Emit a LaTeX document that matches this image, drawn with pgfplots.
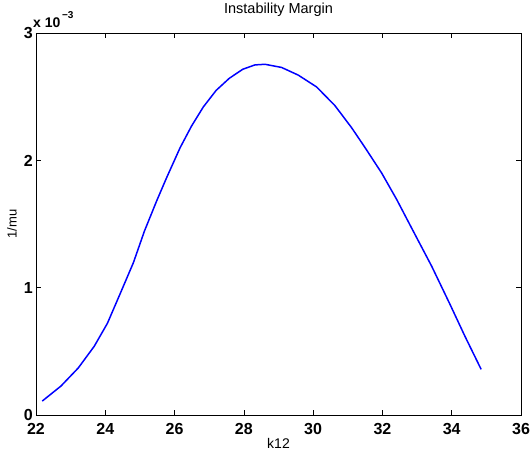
\documentclass[border=0pt]{standalone}
\usepackage{fontspec}
\setmainfont{Liberation Sans}
\usepackage{pgfplots}
\pgfplotsset{compat=1.18}
\begin{document}
\begin{tikzpicture}
\begin{axis}[
  scale only axis,
  width=485pt, height=382pt,
  xmin=22, xmax=36, ymin=0, ymax=0.003,
  xtick={22,24,...,36},
  ytick={0,0.001,0.002,0.003},
  scaled y ticks=base 10:3,
  ytick scale label code/.code={{\fontsize{14}{14}\selectfont\bfseries x 10}\raisebox{9pt}{\fontsize{10}{10}\selectfont\bfseries\,−3}},
  every y tick scale label/.style={at={(rel axis cs:0,1)}, anchor=south west,
    inner sep=0pt, xshift=0pt, yshift=5pt},
  tick align=inside,
  major tick length=5pt,
  tick style={black, line width=0.6pt},
  axis line style={line width=0.8pt},
  tick label style={font=\fontsize{16}{16}\selectfont\bfseries},
  /pgf/number format/assume math mode=true,
  xticklabel style={inner sep=0pt, yshift=-8pt},
  yticklabel style={inner sep=0pt, xshift=-3pt},
  title={Instability Margin},
  title style={font=\fontsize{14.5}{14.5}\selectfont, at={(axis description cs:0.5,1.0445)}, anchor=center},
  xlabel={k12}, ylabel={1/mu},
  xlabel style={font=\fontsize{14}{14}\selectfont, at={(axis description cs:0.5,-0.073)}, anchor=center},
  ylabel style={font=\fontsize{13}{13}\selectfont, at={(axis description cs:-0.0495,0.5)}, anchor=center},
]
\addplot[blue, line width=1.5pt] coordinates {
(22.18,0.000110) (22.72,0.000228) (23.22,0.000370) (23.68,0.000540)
(24.06,0.000720) (24.44,0.000960) (24.81,0.001196) (25.13,0.001445)
(25.48,0.001680) (25.77,0.001864) (26.16,0.002100) (26.49,0.002270)
(26.83,0.002420) (27.20,0.002550) (27.58,0.002645) (27.97,0.002716)
(28.32,0.002750) (28.61,0.002755) (29.09,0.002730) (29.57,0.002670)
(30.10,0.002577) (30.63,0.002430) (31.11,0.002257) (31.50,0.002100)
(31.98,0.001900) (32.41,0.001694) (32.85,0.001465) (33.42,0.001170)
(33.95,0.000870) (34.38,0.000620) (34.85,0.000359)
};
\end{axis}
\path ([xshift=-36pt,yshift=-40pt]current axis.south west) rectangle ([xshift=9pt,yshift=32pt]current axis.north east);
\end{tikzpicture}
\end{document}
